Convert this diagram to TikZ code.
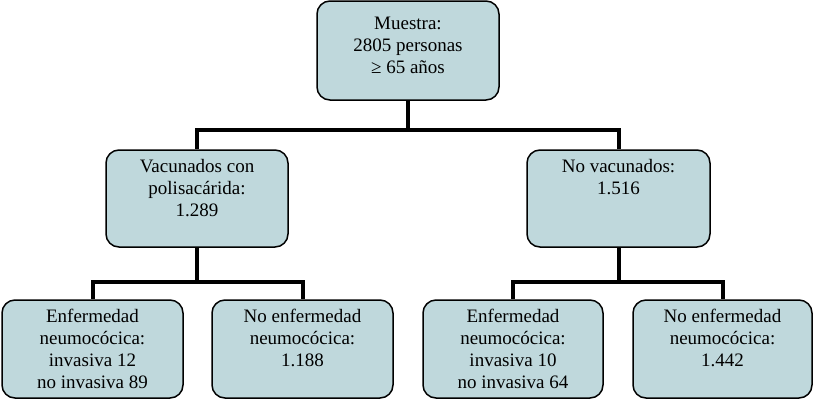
\documentclass[tikz,border=0pt]{standalone}
\usepackage{fontspec}
\setmainfont{Liberation Serif}
\definecolor{boxfill}{RGB}{191,216,220}
\begin{document}
\begin{tikzpicture}[x=1pt,y=-1pt,
  box/.style={draw=black, line width=1.5pt, fill=boxfill, rounded corners=13pt,
    inner sep=0pt, minimum width=181pt, minimum height=98pt},
  txt/.style={anchor=north, inner sep=0pt, align=center,
    font=\fontsize{19}{22}\selectfont},
  link/.style={line width=4pt}]
\useasboundingbox (0,0) rectangle (816,400);
% boxes
\node[box, minimum width=182pt, minimum height=99pt] (T) at (408,50.5) {};
\node[box, minimum width=182pt, minimum height=97pt] (ML) at (197,198.5) {};
\node[box, minimum width=183pt, minimum height=97pt] (MR) at (618.5,198.5) {};
\node[box] (B1) at (92.5,349) {};
\node[box] (B2) at (302.5,349) {};
\node[box, minimum width=180pt] (B3) at (513,349) {};
\node[box, minimum width=179pt] (B4) at (722.5,349) {};
% texts
\node[txt] (Tt) at ([yshift=-16.4pt]T.north) {Muestra:\\2805 personas\\≥ 65 años};
\node[txt] (MLt) at ([yshift=-10pt]ML.north) {Vacunados con\\polisacárida:\\1.289};
\node[txt] (MRt) at ([yshift=-10pt]MR.north) {No vacunados:\\1.516};
\node[txt] (B1t) at ([yshift=-10pt]B1.north) {Enfermedad\\neumocócica:\\invasiva 12\\no invasiva 89};
\node[txt] (B2t) at ([yshift=-10pt]B2.north) {No enfermedad\\neumocócica:\\1.188};
\node[txt] (B3t) at ([yshift=-10pt]B3.north) {Enfermedad\\neumocócica:\\invasiva 10\\no invasiva 64};
\node[txt] (B4t) at ([yshift=-10pt]B4.north) {No enfermedad\\neumocócica:\\1.442};
% connectors
\draw[link] (T.south) -- ++(0,29.5) -| (ML.north);
\draw[link] (T.south) -- ++(0,29.5) -| (MR.north);
\draw[link] (ML.south) -- ++(0,34) -| (B1.north);
\draw[link] (ML.south) -- ++(0,34) -| (B2.north);
\draw[link] (MR.south) -- ++(0,34) -| (B3.north);
\draw[link] (MR.south) -- ++(0,34) -| (B4.north);
\end{tikzpicture}
\end{document}
